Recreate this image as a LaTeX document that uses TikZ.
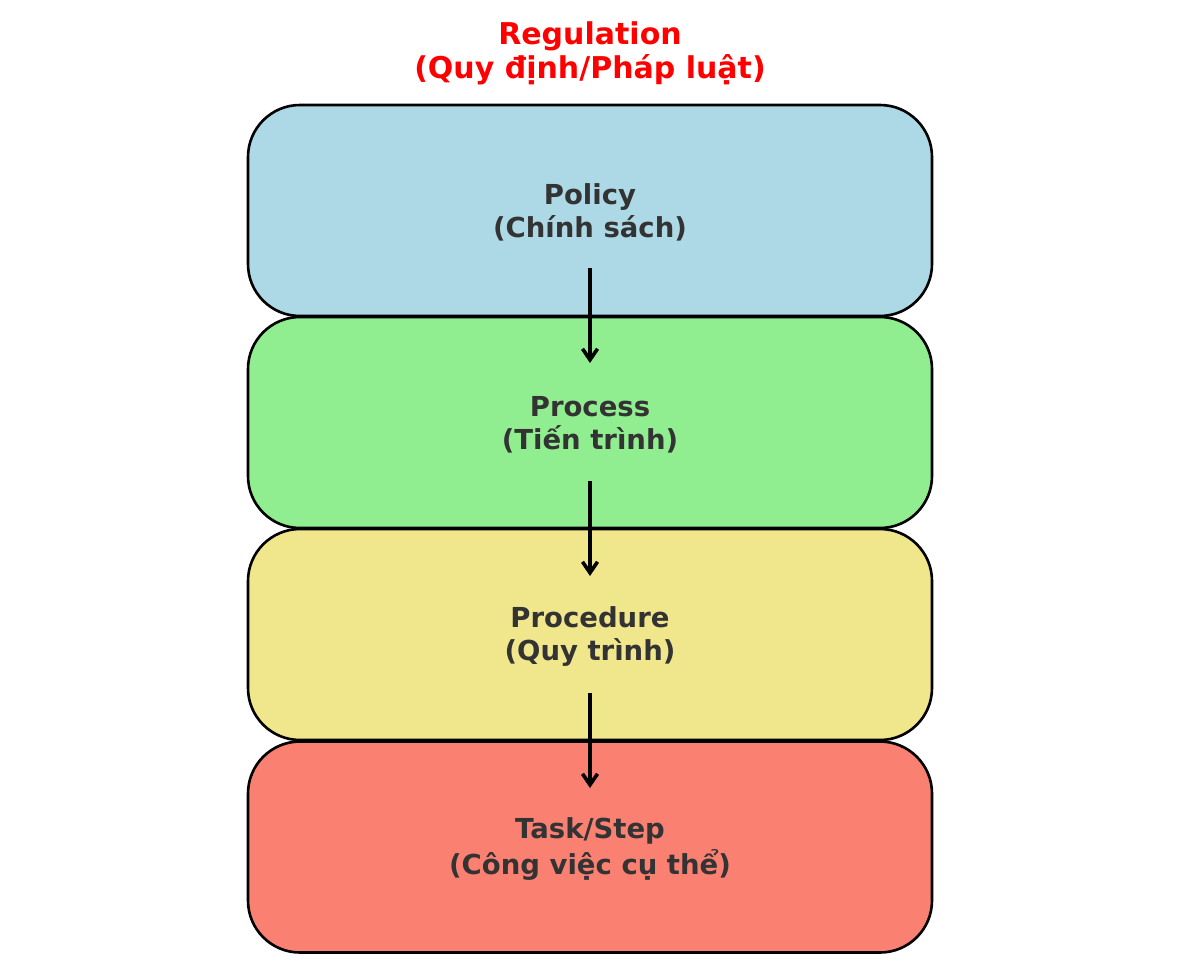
\documentclass[tikz,border=0pt]{standalone}
\usepackage{fontspec}
\setmainfont{DejaVu Sans}
\usetikzlibrary{arrows.meta}
\definecolor{txtgray}{HTML}{333333}
\definecolor{lblue}{HTML}{ADD8E6}
\definecolor{lgreen}{HTML}{90EE90}
\definecolor{lkhaki}{HTML}{F0E68C}
\definecolor{lsalmon}{HTML}{FA8072}
\tikzset{
  layerbox/.style={draw=black, line width=2.6pt, rounded corners=52pt,
    minimum width=684pt, minimum height=211pt, inner sep=0pt},
  boxtext/.style={text=txtgray, font=\fontsize{27.5}{33}\selectfont\bfseries, align=center, inner sep=0pt},
  flowarrow/.style={-{Straight Barb[length=11pt,width=15pt,line width=3.6pt]}, line width=3.8pt, black},
  titletext/.style={text=red, font=\fontsize{30}{34}\selectfont\bfseries, align=center}
}
\begin{document}
\begin{tikzpicture}[x=1pt,y=-1pt]
\useasboundingbox (0,0) rectangle (1180,967);
\node[titletext] (title) at (590,53) {Regulation\\(Quy định/Pháp luật)};
\node[layerbox, fill=lblue] (policy) at (590,210.5) {};
\node[layerbox, fill=lgreen] (process) at (590,422.5) {};
\node[layerbox, fill=lkhaki] (procedure) at (590,634.5) {};
\node[layerbox, fill=lsalmon] (task) at (590,847) {};
\node[boxtext] (policyt) at ([yshift=-2pt]policy.center) {Policy\\(Chính sách)};
\node[boxtext] (processt) at ([yshift=-2pt]process.center) {Process\\(Tiến trình)};
\node[boxtext] (proceduret) at ([yshift=-2pt]procedure.center) {Procedure\\(Quy trình)};
\node[boxtext] (taskt) at ([yshift=-2pt]task.center) {Task/Step\\[3pt](Công việc cụ thể)};
\coordinate (a1s) at (590,268); \coordinate (a1e) at (590,363);
\coordinate (a2s) at (590,481); \coordinate (a2e) at (590,576);
\coordinate (a3s) at (590,693); \coordinate (a3e) at (590,788);
\draw[flowarrow] (a1s) -- (a1e);
\draw[flowarrow] (a2s) -- (a2e);
\draw[flowarrow] (a3s) -- (a3e);
\end{tikzpicture}
\end{document}
